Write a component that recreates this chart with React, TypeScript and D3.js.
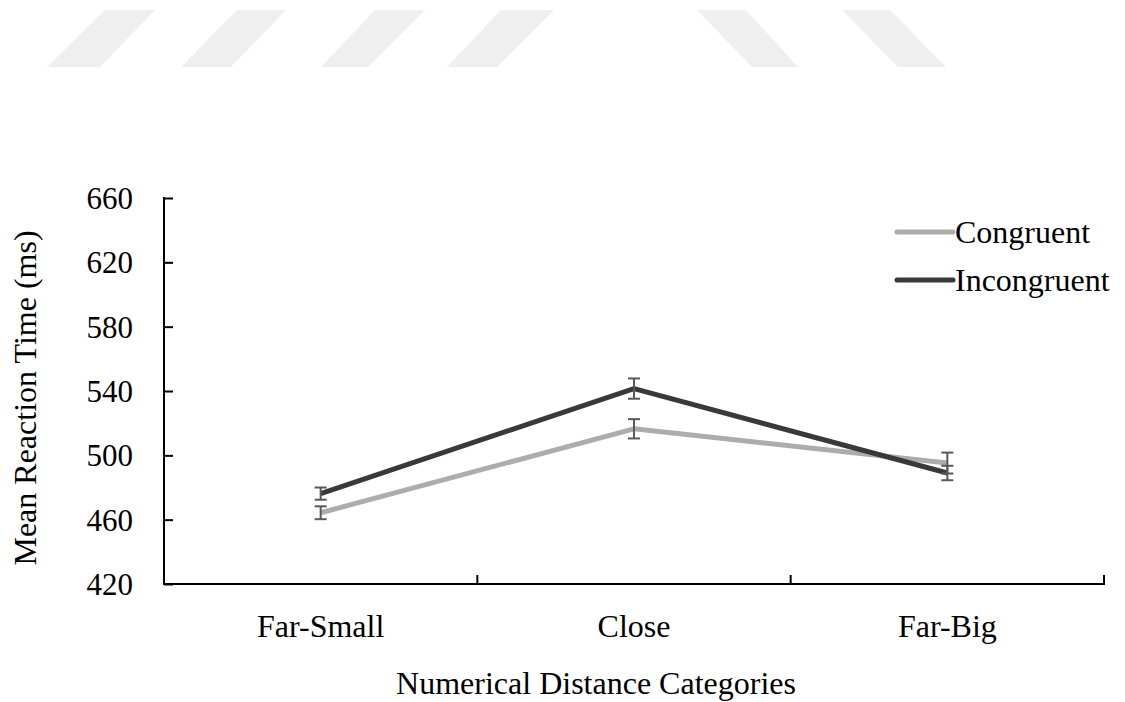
import React, { useEffect, useRef } from 'react';
import * as d3 from 'd3';

// chart data
const categories = ['Far-Small', 'Close', 'Far-Big'];
const congruent = [464.3, 516.5, 495.2];
const incongruent = [476.2, 541.5, 489];
const congruentErr = [4, 6, 6.5];
const incongruentErr = [3.8, 6.3, 4.5];
const yTicks = [420, 460, 500, 540, 580, 620, 660];
const seriesNames = ['Congruent', 'Incongruent'];

// faint watermark stripes across the top
const stripes = [
  [[105, 10], [155, 10], [100, 67], [47, 67]],
  [[237, 10], [286, 10], [231, 67], [181, 67]],
  [[375, 10], [425, 10], [368, 67], [321, 67]],
  [[501, 10], [554, 10], [497, 67], [447, 67]],
  [[697, 10], [746, 10], [798, 67], [752, 67]],
  [[842, 10], [890, 10], [946, 67], [898, 67]],
];

const App = () => {
  const svgRef = useRef<SVGSVGElement>(null);

  useEffect(() => {
    const width = 1125;
    const height = 702;
    const margin = { top: 198, right: 21, bottom: 118, left: 164 };
    const font = '"Liberation Serif", "Times New Roman", serif';
    const colors = ['#AFABAB', '#3B3838'];

    const svg = d3.select(svgRef.current);
    svg.selectAll('*').remove();
    svg.attr('width', width).attr('height', height);

    svg.append('rect').attr('width', width).attr('height', height).attr('fill', '#fff');

    // watermark
    svg.selectAll('.stripe')
      .data(stripes)
      .enter().append('polygon')
      .attr('points', d => d.map(p => p.join(',')).join(' '))
      .attr('fill', '#efefef');

    const x = d3.scaleBand()
      .domain(categories)
      .range([margin.left, width - margin.right]);

    const y = d3.scaleLinear()
      .domain([420, 660])
      .range([height - margin.bottom, margin.top]);

    const cx = (c: string) => (x(c) as number) + x.bandwidth() / 2;

    // y axis
    const yAxis = svg.append('g')
      .attr('transform', `translate(${margin.left},0)`)
      .call(d3.axisRight(y).tickValues(yTicks).tickSize(9).tickFormat(() => ''));
    yAxis.select('.domain').remove();
    yAxis.selectAll('line').attr('stroke', '#000').attr('stroke-width', 2);
    svg.append('line')
      .attr('x1', margin.left).attr('x2', margin.left)
      .attr('y1', y(660) - 1).attr('y2', y(420) + 1)
      .attr('stroke', '#000').attr('stroke-width', 2);

    svg.selectAll('.ylabel')
      .data(yTicks)
      .enter().append('text')
      .attr('x', margin.left - 31)
      .attr('y', d => y(d))
      .attr('dy', '0.35em')
      .attr('text-anchor', 'end')
      .attr('font-family', font)
      .attr('font-size', 31)
      .text(d => d);

    // x axis with ticks at category boundaries
    const baseY = y(420);
    svg.append('line')
      .attr('x1', margin.left).attr('x2', width - margin.right + 1)
      .attr('y1', baseY).attr('y2', baseY)
      .attr('stroke', '#000').attr('stroke-width', 2);
    svg.selectAll('.xtick')
      .data(categories.slice(1).concat(['end']))
      .enter().append('line')
      .attr('x1', d => d === 'end' ? width - margin.right : (x(d) as number))
      .attr('x2', d => d === 'end' ? width - margin.right : (x(d) as number))
      .attr('y1', baseY).attr('y2', baseY - 9)
      .attr('stroke', '#000').attr('stroke-width', 2);

    svg.selectAll('.xlabel')
      .data(categories)
      .enter().append('text')
      .attr('x', d => cx(d))
      .attr('y', baseY + 53)
      .attr('text-anchor', 'middle')
      .attr('font-family', font)
      .attr('font-size', 32)
      .text(d => d);

    // axis titles
    svg.append('text')
      .attr('x', 596)
      .attr('y', 694)
      .attr('text-anchor', 'middle')
      .attr('font-family', font)
      .attr('font-size', 32)
      .text('Numerical Distance Categories');

    svg.append('text')
      .attr('transform', 'rotate(-90)')
      .attr('x', -398)
      .attr('y', 36)
      .attr('text-anchor', 'middle')
      .attr('font-family', font)
      .attr('font-size', 32)
      .text('Mean Reaction Time (ms)');

    const line = d3.line<number>()
      .x((_, i) => cx(categories[i]))
      .y(d => y(d));

    const series = [congruent, incongruent];
    const errs = [congruentErr, incongruentErr];

    series.forEach((vals, s) => {
      svg.append('path')
        .datum(vals)
        .attr('d', line)
        .attr('fill', 'none')
        .attr('stroke', colors[s])
        .attr('stroke-width', 5)
        .attr('stroke-linejoin', 'round');
    });

    // error bars
    series.forEach((vals, s) => {
      const g = svg.append('g').attr('stroke', '#595959').attr('stroke-width', 2);
      vals.forEach((v, i) => {
        const px = cx(categories[i]);
        const top = y(v + errs[s][i]);
        const bot = y(v - errs[s][i]);
        g.append('line').attr('x1', px).attr('x2', px).attr('y1', top).attr('y2', bot);
        g.append('line').attr('x1', px - 6).attr('x2', px + 6).attr('y1', top).attr('y2', top);
        g.append('line').attr('x1', px - 6).attr('x2', px + 6).attr('y1', bot).attr('y2', bot);
      });
    });

    // legend
    const legend = svg.append('g');
    seriesNames.forEach((name, s) => {
      const ly = 232 + s * 48;
      legend.append('line')
        .attr('x1', 897).attr('x2', 953)
        .attr('y1', ly).attr('y2', ly)
        .attr('stroke', colors[s])
        .attr('stroke-width', 5)
        .attr('stroke-linecap', 'round');
      legend.append('text')
        .attr('x', 955)
        .attr('y', ly)
        .attr('dy', '0.35em')
        .attr('font-family', font)
        .attr('font-size', 32)
        .text(name);
    });
  }, []);

  return <svg ref={svgRef} style={{ position: 'absolute', left: 0, top: 0 }}></svg>;
};

export default App;
